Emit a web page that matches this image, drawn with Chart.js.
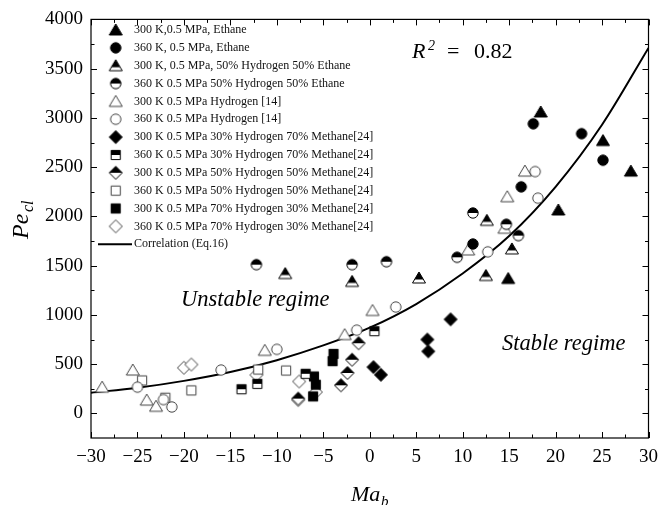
<!DOCTYPE html>
<html>
<head>
<meta charset="utf-8">
<script src="https://cdn.jsdelivr.net/npm/chart.js@4.4.1/dist/chart.umd.min.js"></script>
<style>
  html, body { margin: 0; padding: 0; background: #fff; }
</style>
</head>
<body>
<canvas id="chart" width="666" height="505"></canvas>
<script>
// ---- data ----
const seriesNames = [
  '300 K,0.5 MPa, Ethane',
  '360 K, 0.5 MPa, Ethane',
  '300 K, 0.5 MPa, 50% Hydrogen 50% Ethane',
  '360 K 0.5 MPa 50% Hydrogen 50% Ethane',
  '300 K 0.5 MPa Hydrogen [14]',
  '360 K 0.5 MPa Hydrogen [14]',
  '300 K 0.5 MPa 30% Hydrogen 70% Methane[24]',
  '360 K 0.5 MPa 30% Hydrogen 70% Methane[24]',
  '300 K 0.5 MPa 50% Hydrogen 50% Methane[24]',
  '360 K 0.5 MPa 50% Hydrogen 50% Methane[24]',
  '300 K 0.5 MPa 70% Hydrogen 30% Methane[24]',
  '360 K 0.5 MPa 70% Hydrogen 30% Methane[24]'
];
const correlationName = 'Correlation (Eq.16)';

const ethane300X = [18.4, 25.1, 28.1, 20.3, 14.9];
const ethane300Y = [3060, 2770, 2460, 2065, 1370];
const ethane360X = [17.6, 22.8, 25.1, 16.3, 11.1];
const ethane360Y = [2940, 2840, 2570, 2300, 1720];
const h2eth300X = [-9.1, -1.9, 5.3, 12.6, 15.3, 12.5];
const h2eth300Y = [1420, 1340, 1375, 1960, 1670, 1400];
const h2eth360X = [-12.2, -1.9, 1.8, 9.4, 11.1, 14.7, 16.0];
const h2eth360Y = [1510, 1510, 1540, 1585, 2035, 1920, 1805];
const hydrogen300X = [-28.8, -25.5, -24.0, -23.0, -11.3, -2.7, 0.3, 10.6, 14.5, 14.8, 16.7];
const hydrogen300Y = [266, 440, 135, 72, 640, 800, 1045, 1660, 1880, 2200, 2460];
const hydrogen360X = [-25.0, -22.2, -21.3, -16.0, -10.0, -1.4, 2.8, 12.7, 18.1, 17.8];
const hydrogen360Y = [266, 140, 65, 440, 650, 845, 1080, 1640, 2185, 2455];
const met3070_300X = [0.4, 1.2, 6.2, 6.3, 8.7];
const met3070_300Y = [470, 392, 750, 630, 955];
const met3070_360X = [-13.8, -12.1, -6.9, 0.5];
const met3070_360Y = [245, 300, 402, 835];
const met5050_300X = [-7.7, -3.1, -2.4, -1.9, -1.2];
const met5050_300Y = [150, 285, 410, 545, 712];
const met5050_360X = [-24.5, -22.0, -19.2, -12.0, -9.0];
const met5050_360Y = [334, 159, 233, 445, 435];
const met7030_300X = [-3.9, -4.0, -6.0, -5.8, -6.1];
const met7030_300Y = [604, 530, 375, 291, 172];
const met7030_360X = [-20.0, -19.2, -12.2, -7.6, -5.8, -7.7];
const met7030_360Y = [463, 496, 390, 324, 216, 135];

const correlationX = [-30, -25, -20, -15, -10, -5, 0, 5, 10, 15, 20, 25, 30];
const correlationY = [210, 260, 330, 420, 540, 690, 870, 1110, 1420, 1800, 2300, 2930, 3710];

const xTicks = [-30, -25, -20, -15, -10, -5, 0, 5, 10, 15, 20, 25, 30];
const yTicks = [0, 500, 1000, 1500, 2000, 2500, 3000, 3500, 4000];

const SERIF = '"Liberation Serif", "Times New Roman", serif';

// ---- marker images ----
function marker(shape, fill) {
  const c = document.createElement('canvas');
  c.width = 16; c.height = 16;
  const g = c.getContext('2d');
  g.translate(8, 8);
  g.beginPath();
  let cut = 0;
  if (shape === 'triangle') {
    g.moveTo(0, -6); g.lineTo(6.5, 5); g.lineTo(-6.5, 5); g.closePath();
    cut = 1.5;
  } else if (shape === 'circle') {
    g.arc(0, 0, 5.2, 0, Math.PI * 2);
  } else if (shape === 'square') {
    g.rect(-4.6, -4.6, 9.2, 9.2);
  } else {
    g.moveTo(0, -6.5); g.lineTo(6.5, 0); g.lineTo(0, 6.5); g.lineTo(-6.5, 0); g.closePath();
  }
  g.fillStyle = fill === 'full' ? '#000' : '#fff';
  g.fill();
  if (fill === 'top') {
    g.save();
    g.clip();
    g.fillStyle = '#000';
    g.fillRect(-8, -8, 16, 8 + cut);
    g.restore();
  }
  g.lineWidth = 1;
  g.strokeStyle = fill === 'none' ? '#444' : '#000';
  g.stroke();
  return c;
}

const seriesX = [ethane300X, ethane360X, h2eth300X, h2eth360X, hydrogen300X, hydrogen360X,
  met3070_300X, met3070_360X, met5050_300X, met5050_360X, met7030_300X, met7030_360X];
const seriesY = [ethane300Y, ethane360Y, h2eth300Y, h2eth360Y, hydrogen300Y, hydrogen360Y,
  met3070_300Y, met3070_360Y, met5050_300Y, met5050_360Y, met7030_300Y, met7030_360Y];
const markers = [
  marker('triangle', 'full'), marker('circle', 'full'),
  marker('triangle', 'top'), marker('circle', 'top'),
  marker('triangle', 'none'), marker('circle', 'none'),
  marker('diamond', 'full'), marker('square', 'top'),
  marker('diamond', 'top'), marker('square', 'none'),
  marker('square', 'full'), marker('diamond', 'none')
];

const datasets = seriesNames.map((name, i) => ({
  label: name,
  data: seriesX[i].map((x, j) => ({ x, y: seriesY[i][j] })),
  pointStyle: markers[i],
  showLine: false
}));
datasets.push({
  label: correlationName,
  data: correlationX.map((x, j) => ({ x, y: correlationY[j] })),
  showLine: true,
  borderColor: '#000',
  borderWidth: 2,
  pointRadius: 0,
  cubicInterpolationMode: 'monotone'
});

// ---- frame, inward ticks, legend and labels ----
const decorations = {
  id: 'decorations',
  afterDraw(chart) {
    const { ctx, chartArea: a, scales } = chart;
    const sx = scales.x, sy = scales.y;
    ctx.save();
    ctx.strokeStyle = '#000';
    ctx.lineWidth = 1.2;
    ctx.strokeRect(a.left, a.top, a.right - a.left, a.bottom - a.top);
    ctx.lineWidth = 1;
    ctx.beginPath();
    for (let v = -30; v <= 30; v += 2.5) {
      const px = Math.round(sx.getPixelForValue(v)) + 0.5;
      const len = v % 5 === 0 ? 6 : 3.5;
      ctx.moveTo(px, a.bottom); ctx.lineTo(px, a.bottom - len);
      ctx.moveTo(px, a.top); ctx.lineTo(px, a.top + len);
    }
    for (let v = 0; v <= 4000; v += 250) {
      const py = Math.round(sy.getPixelForValue(v)) + 0.5;
      const len = v % 500 === 0 ? 6 : 3.5;
      ctx.moveTo(a.left, py); ctx.lineTo(a.left + len, py);
      ctx.moveTo(a.right, py); ctx.lineTo(a.right - len, py);
    }
    ctx.stroke();

    // legend
    ctx.font = '12px ' + SERIF;
    ctx.textBaseline = 'middle';
    ctx.textAlign = 'left';
    ctx.fillStyle = '#111';
    const step = 17.85;
    markers.forEach((m, i) => {
      const yy = 30 + i * step;
      ctx.drawImage(m, 115.7 - 8, yy - 8);
      ctx.fillText(seriesNames[i], 134, yy);
    });
    const ly = 30 + 12 * step;
    ctx.beginPath();
    ctx.lineWidth = 2;
    ctx.moveTo(98, ly); ctx.lineTo(132, ly);
    ctx.stroke();
    ctx.fillText(correlationName, 134, ly);

    // annotations
    ctx.fillStyle = '#000';
    ctx.textBaseline = 'alphabetic';
    ctx.font = 'italic 22.5px ' + SERIF;
    ctx.fillText('Unstable regime', 181, 306);
    ctx.fillText('Stable regime', 502, 350);
    ctx.font = 'italic 22px ' + SERIF;
    ctx.fillText('R', 412, 58);
    ctx.font = 'italic 14px ' + SERIF;
    ctx.fillText('2', 428, 50);
    ctx.font = '22px ' + SERIF;
    ctx.fillText('=', 447, 58);
    ctx.fillText('0.82', 474, 58);

    // axis titles
    ctx.font = 'italic 22px ' + SERIF;
    ctx.fillText('Ma', 351, 501);
    ctx.font = 'italic 15px ' + SERIF;
    ctx.fillText('b', 381, 506);
    ctx.save();
    ctx.translate(28, 239);
    ctx.rotate(-Math.PI / 2);
    ctx.font = 'italic 24px ' + SERIF;
    ctx.fillText('Pe', 0, 0);
    ctx.font = 'italic 16px ' + SERIF;
    ctx.fillText('cl', 27, 5);
    ctx.restore();
    ctx.restore();
  }
};

const minus = v => (v < 0 ? '\u2212' + Math.abs(v) : String(v));

new Chart(document.getElementById('chart'), {
  type: 'scatter',
  data: { datasets },
  options: {
    responsive: false,
    animation: false,
    devicePixelRatio: 1,
    layout: { padding: { top: 18, right: 12, left: 0, bottom: 0 } },
    plugins: { legend: { display: false }, tooltip: { enabled: false } },
    events: [],
    scales: {
      x: {
        type: 'linear',
        min: -30, max: 30,
        afterBuildTicks: s => { s.ticks = xTicks.map(v => ({ value: v })); },
        afterFit: s => { s.height = 67; },
        grid: { display: true, drawOnChartArea: false, drawTicks: false },
        border: { display: false },
        ticks: { font: { family: SERIF, size: 19 }, color: '#000', padding: 8, callback: minus, maxRotation: 0 }
      },
      y: {
        type: 'linear',
        min: -250, max: 4000,
        afterBuildTicks: s => { s.ticks = yTicks.map(v => ({ value: v })); },
        afterFit: s => { s.width = 91; },
        grid: { display: true, drawOnChartArea: false, drawTicks: false },
        border: { display: false },
        ticks: { font: { family: SERIF, size: 19 }, color: '#000', padding: 8, callback: minus }
      }
    }
  },
  plugins: [decorations]
});
</script>
</body>
</html>
